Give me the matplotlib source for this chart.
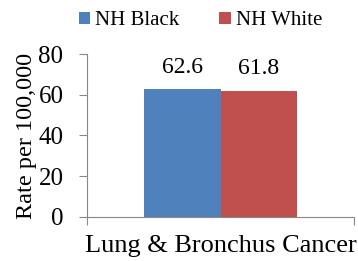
import numpy as np
import matplotlib.pyplot as plt

# Data
category = "Lung & Bronchus Cancer"
groups = ["NH Black", "NH White"]
rates = [62.6, 61.8]
colors = ["#4F81BD", "#C0504D"]

plt.rcParams['font.family'] = ['Liberation Serif', 'DejaVu Serif']

fig = plt.figure(figsize=(3.58, 2.61), dpi=100)
ax = fig.add_axes([0.243, 0.169, 0.746, 0.624])

width = 0.288
offsets = [-width / 2, width / 2]
for name, val, col, off in zip(groups, rates, colors, offsets):
    ax.bar(off, val, width=width, color=col, label=name)
    ax.annotate(f"{val:.1f}", (off, val), xytext=(0, 12), textcoords="offset points",
                ha="center", va="baseline", fontsize=17)

ax.set_xlim(-0.5, 0.5)
ax.set_ylim(0, 80)
ax.set_yticks([0, 20, 40, 60, 80])
ax.set_xticks([-0.5, 0.5])
ax.set_xticklabels([])
ax.set_xticks([0], [category], minor=True)
ax.tick_params(axis="x", which="minor", length=0, labelsize=19, pad=13)
ax.tick_params(axis="x", which="major", length=6, color="#888888")
ax.tick_params(axis="y", length=6, color="#888888", labelsize=18, pad=11)

for s in ["top", "right"]:
    ax.spines[s].set_visible(False)
for s in ["left", "bottom"]:
    ax.spines[s].set_color("#888888")

ax.set_ylabel("Rate per 100,000", fontsize=17.5, labelpad=1)

fig.legend(loc="center", bbox_to_anchor=(0.56, 0.92), ncol=2, frameon=False,
           fontsize=15, handlelength=0.55, handleheight=0.55, handletextpad=0.25,
           columnspacing=1.9)

fig.savefig("out.png", dpi=100)
